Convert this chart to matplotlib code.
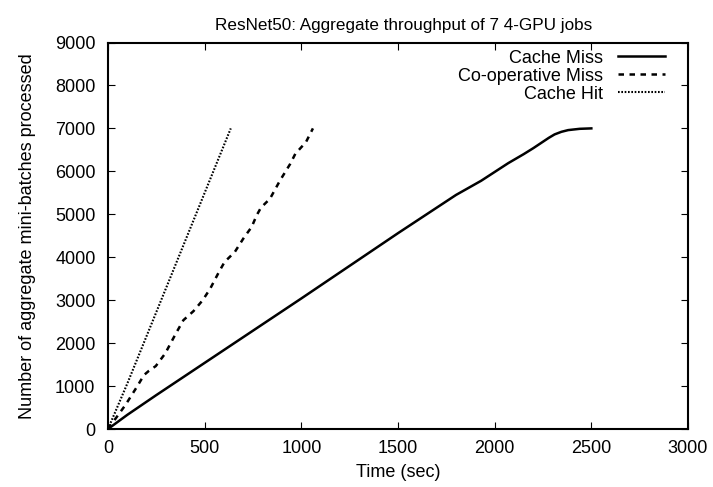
import matplotlib
matplotlib.use("Agg")
import matplotlib.pyplot as plt

plt.rcParams['font.family'] = ['Liberation Sans', 'DejaVu Sans']

title = "ResNet50: Aggregate throughput of 7 4-GPU jobs"
xlabel = "Time (sec)"
ylabel = "Number of aggregate mini-batches processed"

miss_t = [0, 100, 250, 500, 1000, 1500, 1800, 1930, 2070, 2150, 2200, 2240, 2280, 2310, 2345,
          2380, 2440, 2500]
miss_v = [0, 330, 790, 1540, 3040, 4560, 5450, 5780, 6190, 6400, 6540, 6660, 6780, 6860, 6920,
          6960, 6990, 7000]

coop_t = [0, 90, 151, 186, 212, 247, 296, 351, 390, 442, 490, 529, 574, 603, 656, 703, 743,
          769, 791, 838, 890, 943, 969, 1024, 1060]
coop_v = [0, 558, 992, 1256, 1356, 1465, 1759, 2224, 2534, 2744, 3000, 3271, 3658, 3890, 4123,
          4456, 4704, 4976, 5154, 5363, 5789, 6177, 6409, 6681, 7000]

hit_t = [0, 100, 320, 635]
hit_v = [0, 1060, 3500, 7000]

xticks = [0, 500, 1000, 1500, 2000, 2500, 3000]
yticks = [0, 1000, 2000, 3000, 4000, 5000, 6000, 7000, 8000, 9000]

fig = plt.figure(figsize=(7.13, 4.87), dpi=100)
ax = fig.add_axes([108 / 713, 1 - 429 / 487, (688 - 108) / 713, (429 - 42.5) / 487])

ax.plot(miss_t, miss_v, color='black', lw=1.8, label='Cache Miss')
ax.plot(coop_t, coop_v, color='black', lw=1.8, linestyle=(0, (2.2, 2.2)), label='Co-operative Miss')
ax.plot(hit_t, hit_v, color='black', lw=1.5, linestyle=(0, (0.8, 0.8)), label='Cache Hit')

ax.set_xlim(0, 3000)
ax.set_ylim(0, 9000)
ax.set_xticks(xticks)
ax.set_yticks(yticks)
ax.tick_params(direction='in', top=True, right=True, length=5, width=0.8, labelsize=13)
ax.tick_params(axis='x', pad=8)
ax.tick_params(axis='y', pad=9)
for s in ax.spines.values():
    s.set_linewidth(1.5)

ax.set_title(title, fontsize=12.3, pad=9, x=0.509)
ax.set_xlabel(xlabel, fontsize=13, labelpad=5)
ax.set_ylabel(ylabel, fontsize=13, labelpad=14)

leg = ax.legend(loc='upper right', frameon=False, fontsize=13, markerfirst=False,
                handlelength=2.6, handletextpad=0.8, labelspacing=0.05,
                borderaxespad=0.0, bbox_to_anchor=(0.972, 1.0))
for t in leg.get_texts():
    t.set_ha('right')
leg._legend_box.align = 'right'

fig.savefig('out.png', dpi=100)
